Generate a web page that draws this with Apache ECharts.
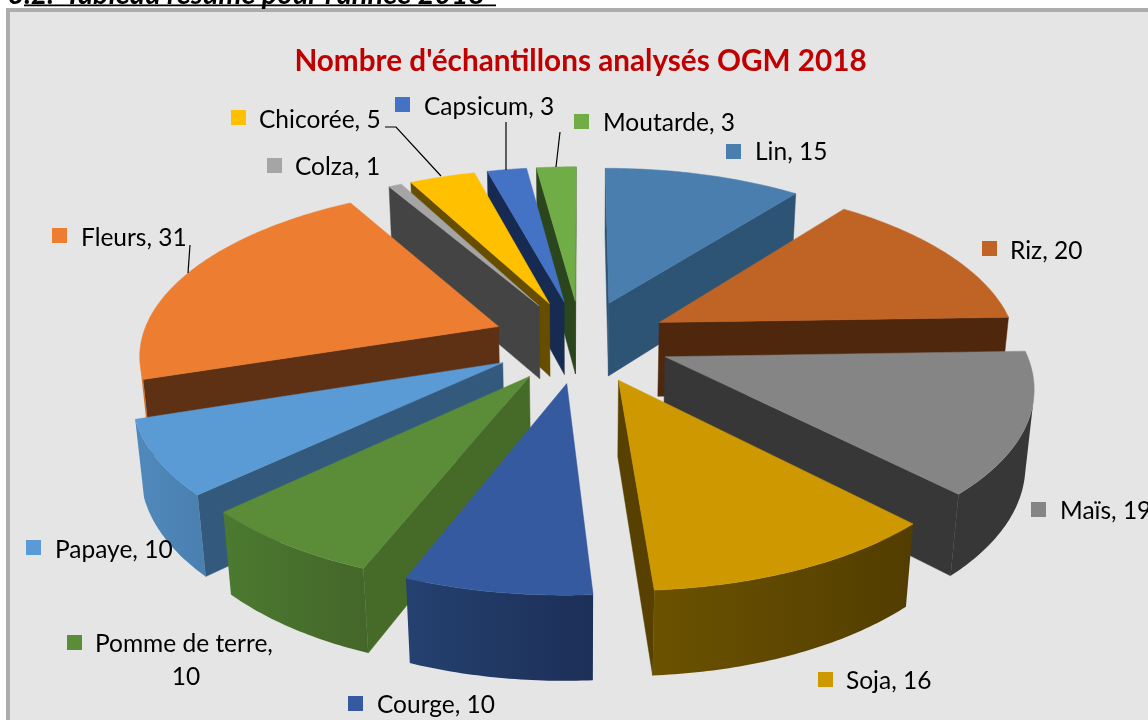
<!DOCTYPE html>
<html><head><meta charset="utf-8">
<style>html,body{margin:0;padding:0;background:#fff;overflow:hidden}#c{width:1148px;height:720px}</style>
<script src="https://cdn.jsdelivr.net/npm/echarts@6/dist/echarts.min.js"></script>
</head><body><div id="c"></div>
<script>
// ---- data ----
const categories = ['Lin','Riz','Maïs','Soja','Courge','Pomme de terre','Papaye','Fleurs','Colza','Chicorée','Capsicum','Moutarde'];
const sampleCounts = [15,20,19,16,10,10,10,31,1,5,3,3];
const chartTitle = "Nombre d'échantillons analysés OGM 2018";
const headingNumber = "3.2.";
const headingText = "Tableau résumé pour l'année 2018";

// ---- styles ----
const topColors  = ['#4A7EAE','#C06425','#858585','#CE9900','#355A9F','#5B8C37','#5B9BD5','#ED7D31','#A5A5A5','#FFC000','#4472C4','#70AD47'];
const swatchColors = ['#4A7EAE','#C06425','#858585','#CE9900','#355A9F','#5B8C37','#5B9BD5','#ED7D31','#A5A5A5','#FFC000','#4472C4','#70AD47'];
const sideColors = ['#2E5475','#4E270D','#373737','#574000','#1F3661','#466B28','#335A7D','#5F3114','#444444','#664D00','#172B52','#2B451C'];
const rimLeft    = ['#2E5475','#4E270D','#373737','#6B5200','#254170','#4C7A30','#5089BC','#E07A30','#444444','#664D00','#172B52','#2B451C'];
const rimRight   = ['#2E5475','#4E270D','#373737','#523D00','#1C2F57','#44662A','#4A80B0','#B8622A','#444444','#664D00','#172B52','#2B451C'];

// ---- camera of the 3-D pie ----
const cam = {cx:581, cy:341, scale:357.5, tilt:27.6*Math.PI/180, dist:5.9, explode:0.25, height:0.24};
const sinT = Math.sin(cam.tilt), cosT = Math.cos(cam.tilt);
function project(X,Y,Z){
  const yv = Y*sinT + Z*cosT, zv = Y*cosT - Z*sinT, k = 1/(1+zv/cam.dist);
  return [cam.cx + cam.scale*X*k, cam.cy - cam.scale*yv*k];
}
function area(p){let a=0;for(let i=0;i<p.length;i++){const q=p[(i+1)%p.length];a+=p[i][0]*q[1]-q[0]*p[i][1];}return a/2;}

const total = sampleCounts.reduce((a,b)=>a+b,0);
let acc = 0;
const slices = sampleCounts.map((v,i)=>{
  const a0 = acc/total*2*Math.PI; acc += v; const a1 = acc/total*2*Math.PI;
  return {index:i,a0,a1,mid:(a0+a1)/2};
});
// painter's order: far slices first
const paintOrder = slices.slice().sort((a,b)=>Math.cos(b.mid)-Math.cos(a.mid)).map(s=>s.index);

function renderSlice(params, api){
  const i = api.value(0), sl = slices[i];
  const ox = cam.explode*Math.sin(sl.mid), oy = cam.explode*Math.cos(sl.mid);
  const n = Math.max(2, Math.ceil((sl.a1-sl.a0)/(Math.PI/240)));
  const topArc=[], botArc=[];
  for(let k=0;k<=n;k++){
    const a = sl.a0+(sl.a1-sl.a0)*k/n, X=ox+Math.sin(a), Y=oy+Math.cos(a);
    topArc.push(project(X,Y,0)); botArc.push(project(X,Y,-cam.height));
  }
  const apexT = project(ox,oy,0), apexB = project(ox,oy,-cam.height);
  const topPoly = [apexT].concat(topArc);
  const sgn = Math.sign(area(topPoly));
  const shown = q => Math.sign(area(q)) !== sgn;
  const children = [];
  const addWall=(q,fill)=>children.push({type:'polygon',shape:{points:q},style:{fill,stroke:fill,lineWidth:0.5},silent:true});
  // straight cut faces
  const startWall=[apexT,topArc[0],botArc[0],apexB];
  const endWall=[topArc[n],apexT,apexB,botArc[n]];
  if(shown(startWall)) addWall(startWall,sideColors[i]);
  if(shown(endWall)) addWall(endWall,sideColors[i]);
  // curved rim
  let lo=-1,hi=-1;
  for(let k=0;k<n;k++){
    if(shown([topArc[k],topArc[k+1],botArc[k+1],botArc[k]])){ if(lo<0)lo=k; hi=k+1; }
  }
  if(lo>=0){
    const pts = topArc.slice(lo,hi+1).concat(botArc.slice(lo,hi+1).reverse());
    const grad = {type:'linear',x:0,y:0,x2:1,y2:0,colorStops:[{offset:0,color:rimLeft[i]},{offset:1,color:rimRight[i]}]};
    children.push({type:'polygon',shape:{points:pts},style:{fill:grad},silent:true});
  }
  children.push({type:'polygon',shape:{points:topPoly},style:{fill:topColors[i],stroke:topColors[i],lineWidth:0.5},silent:true});
  return {type:'group',children};
}

// ---- label layout (text anchor, swatch) ----
const labelLayout = [
  {sx:726,sy:144,tx:755,ty:152},{sx:982,sy:241,tx:1010,ty:251},{sx:1031,sy:502,tx:1060,ty:511},
  {sx:818,sy:672,tx:846,ty:681},{sx:348,sy:696,tx:377,ty:705},{sx:67,sy:635,tx:95,ty:644},
  {sx:26,sy:540,tx:55,ty:550},{sx:52,sy:228,tx:81,ty:238},{sx:267,sy:158,tx:295,ty:167},
  {sx:231,sy:110,tx:259,ty:120},{sx:395,sy:97,tx:424,ty:107},{sx:574,sy:114,tx:603,ty:123}
];
const leaderLines = [
  [[385,127],[396,127],[441,176]],
  [[506,122],[506,170]],
  [[560,132],[556,167]],
  [[190,245],[188,273]]
];
const labelFont = '24.5px Lato, "Noto Sans", sans-serif';
const graphics = [
  {type:'rect',z:-10,shape:{x:6,y:8,width:1142,height:712},style:{fill:'#ADADAD'},silent:true},
  {type:'rect',z:-9,shape:{x:10,y:12,width:1138,height:708},style:{fill:'#E5E5E5'},silent:true},
  {type:'text',z:5,x:8,y:9,style:{text:headingNumber,font:'italic bold 28px Lato, sans-serif',fill:'#000',verticalAlign:'bottom',textBaseline:'bottom'},silent:true},
  {type:'text',z:5,x:65,y:9,style:{text:headingText,font:'italic bold 29px Lato, sans-serif',fill:'#000',verticalAlign:'bottom',textBaseline:'bottom'},silent:true},
  {type:'rect',z:6,shape:{x:24,y:4.5,width:472,height:1.8},style:{fill:'#000'},silent:true}
];
categories.forEach((name,i)=>{
  const L = labelLayout[i];
  graphics.push({type:'rect',z:5,shape:{x:L.sx,y:L.sy,width:15,height:15},style:{fill:swatchColors[i]},silent:true});
  const first = name==='Pomme de terre' ? name+',' : name+', '+sampleCounts[i];
  graphics.push({type:'text',z:5,x:L.tx,y:L.ty,style:{text:first,font:labelFont,fill:'#000',verticalAlign:'middle',textBaseline:'middle'},silent:true});
  if(name==='Pomme de terre'){
    graphics.push({type:'text',z:5,x:L.tx+91,y:L.ty+33,style:{text:String(sampleCounts[i]),font:labelFont,fill:'#000',align:'center',textAlign:'center',verticalAlign:'middle',textBaseline:'middle'},silent:true});
  }
});
leaderLines.forEach(p=>graphics.push({type:'polyline',z:5,shape:{points:p},style:{stroke:'#000',lineWidth:1.2,fill:null},silent:true}));

const chart = echarts.init(document.getElementById('c'),null,{renderer:'canvas'});
chart.setOption({
  animation:false,
  backgroundColor:'#fff',
  title:{text:chartTitle,left:575.5,top:41,textAlign:'center',textStyle:{color:'#C00000',fontFamily:'Lato, sans-serif',fontWeight:'bold',fontSize:29.7}},
  graphic:graphics,
  series:[{type:'custom',coordinateSystem:'none',renderItem:renderSlice,
    data:paintOrder.map(i=>({name:categories[i],value:[i,sampleCounts[i]]})),silent:true,z:2}]
});
</script></body></html>
